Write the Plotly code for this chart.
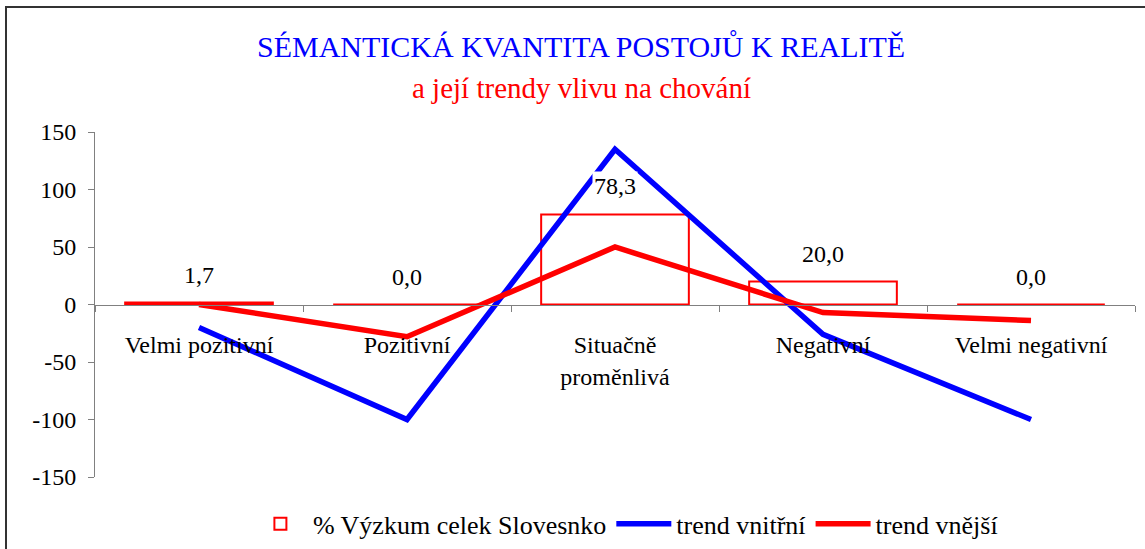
import plotly.graph_objects as go

categories = ["Velmi pozitivní", "Pozitivní", "Situačně<br>proměnlivá", "Negativní", "Velmi negativní"]
vyzkum = [1.7, 0.0, 78.3, 20.0, 0.0]
trend_vnitrni = [-20, -100, 135, -26, -100]
trend_vnejsi = [0, -28, 50, -7, -14]
y_ticks = [150, 100, 50, 0, -50, -100, -150]

FONT = "'Liberation Serif', 'Times New Roman', serif"

fig = go.Figure()
fig.add_trace(go.Bar(
    x=categories, y=vyzkum, name="% Výzkum celek Slovesnko",
    marker=dict(color="white", line=dict(color="#FF0000", width=2)),
))
fig.add_trace(go.Scatter(
    x=categories, y=trend_vnitrni, name="trend vnitřní", mode="lines",
    line=dict(color="#0000FF", width=5.5),
))
fig.add_trace(go.Scatter(
    x=categories, y=trend_vnejsi, name="trend vnější", mode="lines",
    line=dict(color="#FF0000", width=5.5),
))

# data labels
for c, v in zip(categories, vyzkum):
    fig.add_annotation(
        x=c, y=v, xref="x", yref="y", text=f"{v:.1f}".replace(".", ","),
        showarrow=False, yanchor="middle", yshift=28, bgcolor="white",
        font=dict(family=FONT, size=24, color="black"),
    )

# titles
fig.add_annotation(
    xref="paper", yref="paper", x=0.467, y=1.2464, text="SÉMANTICKÁ KVANTITA POSTOJŮ K REALITĚ",
    showarrow=False, xanchor="center", yanchor="middle",
    font=dict(family=FONT, size=30, color="#0000FF"),
)
fig.add_annotation(
    xref="paper", yref="paper", x=0.468, y=1.1275, text="a její trendy vlivu na chování",
    showarrow=False, xanchor="center", yanchor="middle",
    font=dict(family=FONT, size=29, color="#FF0000"),
)

# outer border
fig.add_shape(
    type="rect", xref="paper", yref="paper",
    x0=(6 - 95) / 1040, x1=1.2, y0=-0.4, y1=(477 - 7) / 345,
    line=dict(color="#333333", width=2), fillcolor="rgba(0,0,0,0)", layer="above",
)

fig.update_layout(
    width=1145, height=549,
    margin=dict(l=95, r=10, t=132, b=72, autoexpand=False),
    paper_bgcolor="white", plot_bgcolor="white",
    bargap=0.29,
    showlegend=True,
    font=dict(family=FONT),
    legend=dict(
        orientation="h", x=0.51, y=-0.136, xanchor="center", yanchor="middle",
        font=dict(family=FONT, size=26, color="black"),
        itemwidth=55, traceorder="normal",
    ),
)
fig.update_xaxes(
    type="category", range=[-0.5, 4.5], anchor="free", position=0.5,
    showline=True, linecolor="#808080", linewidth=1,
    ticks="outside", tickson="boundaries", ticklen=6, tickcolor="#808080",
    showgrid=False, zeroline=False, automargin=False,
    tickfont=dict(family=FONT, size=24, color="black"),
    ticklabelstandoff=19,
)
fig.update_yaxes(
    range=[-150, 150], tickvals=y_ticks, ticktext=[str(t) for t in y_ticks],
    showline=True, linecolor="#808080", linewidth=1,
    ticks="outside", ticklen=6, tickcolor="#808080",
    showgrid=False, zeroline=False, automargin=False,
    tickfont=dict(family=FONT, size=24, color="black"),
    ticklabelstandoff=7,
)

fig.write_html(
    "out.html",
    config={"displayModeBar": False},
    post_script="document.body.style.margin='0';document.body.style.padding='0';",
)
